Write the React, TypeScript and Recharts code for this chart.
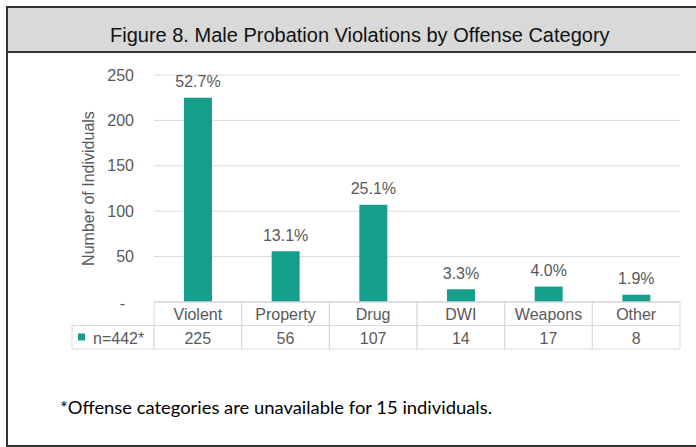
import React from 'react';
import { BarChart, Bar, XAxis, YAxis, CartesianGrid, LabelList } from 'recharts';

const categories = ['Violent', 'Property', 'Drug', 'DWI', 'Weapons', 'Other'];
const counts = [225, 56, 107, 14, 17, 8];
const percents = ['52.7%', '13.1%', '25.1%', '3.3%', '4.0%', '1.9%'];
const yTicks = [0, 50, 100, 150, 200, 250];
const seriesName = 'n=442*';
const title = 'Figure 8. Male Probation Violations by Offense Category';
const footnote = '*Offense categories are unavailable for 15 individuals.';

const data = categories.map((c, i) => ({ category: c, count: counts[i], pct: percents[i] }));

const W = 696;
const H = 447;
const M = { top: 75, right: 16, bottom: 98, left: 0 };
const Y_AXIS_W = 154;
const X_AXIS_H = 47;
const PLOT_W = W - M.left - M.right - Y_AXIS_W;
const ROW = X_AXIS_H / 2;
const LEGEND_W = 82;
const TEAL = '#169E8C';
const TEXT = '#595959';
const LINE = '#d9d9d9';
const FONT = 'Liberation Sans, Arial, sans-serif';
const TS: React.CSSProperties = { fontFamily: FONT, fontSize: 16 };

const XTick = (props: any) => {
  const { x, y, payload } = props;
  const idx = payload.index;
  const bw = PLOT_W / categories.length;
  const left = x - bw / 2;
  return (
    <g>
      <rect x={left} y={y} width={bw} height={ROW} fill="none" stroke={LINE} strokeWidth={1} />
      <rect x={left} y={y + ROW} width={bw} height={ROW} fill="none" stroke={LINE} strokeWidth={1} />
      <text x={x} y={y + ROW / 2 + 1} textAnchor="middle" dominantBaseline="central" fill={TEXT} style={TS}>
        {payload.value}
      </text>
      <text x={x} y={y + ROW * 1.5 + 1} textAnchor="middle" dominantBaseline="central" fill={TEXT} style={TS}>
        {counts[idx]}
      </text>
      {idx === 0 && (
        <g>
          <rect x={left - LEGEND_W} y={y + ROW} width={LEGEND_W} height={ROW} fill="none" stroke={LINE} strokeWidth={1} />
          <rect x={left - LEGEND_W + 6} y={y + ROW + 8} width={7} height={7} fill={TEAL} />
          <text x={left - LEGEND_W + 21} y={y + ROW * 1.5 + 1} textAnchor="start" dominantBaseline="central" fill={TEXT} style={TS}>
            {seriesName}
          </text>
        </g>
      )}
    </g>
  );
};

const YTick = (props: any) => {
  const { x, y, payload } = props;
  const isZero = payload.value === 0;
  return (
    <text x={isZero ? x - 9 : x} y={y + (isZero ? 1 : 0)} textAnchor="end" dominantBaseline="central" fill={TEXT} style={TS}>
      {isZero ? '-' : payload.value}
    </text>
  );
};

const BarLabel = (props: any) => {
  const { x, y, width, value } = props;
  return (
    <text x={x + width / 2} y={y - 16} textAnchor="middle" dominantBaseline="central" fill={TEXT} style={TS}>
      {value}
    </text>
  );
};

const YLabel = (props: any) => {
  const vb = props.viewBox;
  const cx = 88;
  const cy = vb.y + vb.height / 2;
  return (
    <text x={cx} y={cy} transform={`rotate(-90 ${cx} ${cy})`} textAnchor="middle" dominantBaseline="central" fill={TEXT} style={TS}>
      Number of Individuals
    </text>
  );
};

export default function App() {
  return (
    <div style={{ position: 'absolute', left: 0, top: 0, width: W, height: H, overflow: 'hidden', background: '#fff' }}>
      <div style={{ position: 'absolute', left: 6, top: 6, width: 720, height: 441, border: '2px solid #333', boxSizing: 'border-box' }} />
      <div style={{ position: 'absolute', left: 8, top: 8, width: 720, height: 43, background: '#d9d9d9', borderBottom: '2px solid #333' }} />
      <svg style={{ position: 'absolute', left: 0, top: 0 }} width={W} height={H}>
        <text x={110} y={41.5} fill="#111" style={{ fontFamily: FONT, fontSize: 20 }}>{title}</text>
        <text x={60} y={414} fill="#000" textLength={432} lengthAdjust="spacingAndGlyphs" style={{ fontFamily: 'Lato, sans-serif', fontSize: 17.5 }}>{footnote}</text>
      </svg>
      <div style={{ position: 'absolute', left: 0, top: 0 }}>
        <BarChart width={W} height={H} data={data} margin={M} barSize={28}>
          <CartesianGrid vertical={false} stroke={LINE} />
          <XAxis
            dataKey="category"
            height={X_AXIS_H}
            interval={0}
            tickLine={false}
            tickSize={0}
            tickMargin={0}
            axisLine={{ stroke: LINE }}
            tick={<XTick />}
          />
          <YAxis
            width={Y_AXIS_W}
            domain={[0, 250]}
            ticks={yTicks}
            interval={0}
            axisLine={false}
            tickLine={false}
            tickSize={0}
            tickMargin={20}
            tick={<YTick />}
            label={<YLabel />}
          />
          <Bar dataKey="count" fill={TEAL} isAnimationActive={false}>
            <LabelList dataKey="pct" content={<BarLabel />} />
          </Bar>
        </BarChart>
      </div>
    </div>
  );
}
